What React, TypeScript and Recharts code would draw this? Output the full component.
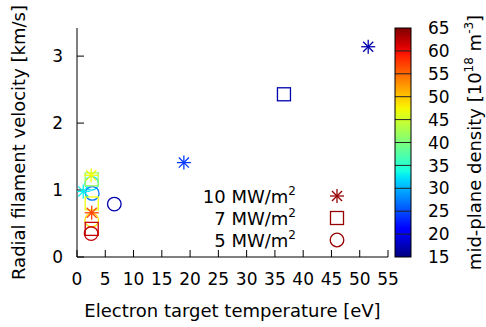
import React from 'react';
import { ScatterChart, Scatter, XAxis, YAxis } from 'recharts';

// electron target temperature [eV], filament velocity [km/s], mid-plane density [1e18 m^-3]
const star10Temp = [51.5, 18.9, 2.5, 1.1, 2.6];
const star10Vel = [3.14, 1.41, 1.22, 0.98, 0.66];
const star10Dens = [17, 24, 47, 33, 57];

const square7Temp = [36.6, 2.6, 2.6, 2.6];
const square7Vel = [2.43, 1.16, 0.8, 0.42];
const square7Dens = [17, 42, 47, 62];

const circle5Temp = [6.6, 2.6, 2.7, 2.6, 2.5];
const circle5Vel = [0.79, 1.1, 0.95, 0.55, 0.35];
const circle5Dens = [17, 32, 27, 49, 62];

const tempTicks = [0, 5, 10, 15, 20, 25, 30, 35, 40, 45, 50, 55];
const velTicks = [0, 1, 2, 3];
const densTicks = [15, 20, 25, 30, 35, 40, 45, 50, 55, 60, 65];

const legendRows = ['10', '7', '5'];

const FONT = 'DejaVu Sans, Verdana, sans-serif';
const box = { left: 77, top: 28, right: 388, bottom: 257 };
const cbar = { left: 395, right: 411 };

// jet colour map
const jetR = [[0, 0], [0.35, 0], [0.66, 1], [0.89, 1], [1, 0.5]];
const jetG = [[0, 0], [0.125, 0], [0.375, 1], [0.64, 1], [0.91, 0], [1, 0]];
const jetB = [[0, 0.5], [0.11, 1], [0.34, 1], [0.65, 0], [1, 0]];

function interp(pts: number[][], f: number) {
  for (let i = 1; i < pts.length; i++) {
    if (f <= pts[i][0]) {
      const [x0, y0] = pts[i - 1];
      const [x1, y1] = pts[i];
      return y0 + ((y1 - y0) * (f - x0)) / (x1 - x0);
    }
  }
  return pts[pts.length - 1][1];
}

function jet(f: number) {
  const t = Math.max(0, Math.min(1, f));
  const c = (p: number[][]) => Math.round(interp(p, t) * 255);
  return `rgb(${c(jetR)},${c(jetG)},${c(jetB)})`;
}

const dMin = densTicks[0];
const dMax = densTicks[densTicks.length - 1];
const densityColor = (n: number) => jet((n - dMin) / (dMax - dMin));

const zip = (t: number[], v: number[], d: number[]) =>
  t.map((x, i) => ({ t: x, v: v[i], n: d[i] }));

const starData = zip(star10Temp, star10Vel, star10Dens);
const squareData = zip(square7Temp, square7Vel, square7Dens);
const circleData = zip(circle5Temp, circle5Vel, circle5Dens);

const LW = 1.3;

function Star({ cx, cy, color }: any) {
  const r = 7;
  const d = r * 0.72;
  return (
    <g stroke={color} strokeWidth={LW} fill="none">
      <line x1={cx - r} y1={cy} x2={cx + r} y2={cy} />
      <line x1={cx} y1={cy - r} x2={cx} y2={cy + r} />
      <line x1={cx - d} y1={cy - d} x2={cx + d} y2={cy + d} />
      <line x1={cx - d} y1={cy + d} x2={cx + d} y2={cy - d} />
    </g>
  );
}

function Square({ cx, cy, color }: any) {
  return <rect x={cx - 6.5} y={cy - 6.5} width={13} height={13} stroke={color} strokeWidth={LW} fill="none" />;
}

function Circle({ cx, cy, color }: any) {
  return <circle cx={cx} cy={cy} r={6.8} stroke={color} strokeWidth={LW} fill="none" />;
}

const markers = [Star, Square, Circle];

const tickFont = { fontFamily: FONT, fontSize: 17, fill: '#000' };
const LABEL = 18;
const blank = () => '';

function ColorBar() {
  const h = box.bottom - box.top;
  const yOf = (n: number) => box.bottom - ((n - dMin) / (dMax - dMin)) * h;
  const stops = Array.from({ length: 41 }, (_, i) => i / 40);
  return (
    <g>
      <defs>
        <linearGradient id="jetbar" x1="0" y1="1" x2="0" y2="0">
          {stops.map((s) => (
            <stop key={s} offset={s} stopColor={jet(s)} />
          ))}
        </linearGradient>
      </defs>
      <rect x={cbar.left} y={box.top} width={cbar.right - cbar.left} height={h} fill="url(#jetbar)" />
      {densTicks.slice(1, -1).map((n) => (
        <line key={n} x1={cbar.left} x2={cbar.right} y1={yOf(n)} y2={yOf(n)} stroke="#222" strokeWidth={1} />
      ))}
      <rect x={cbar.left} y={box.top} width={cbar.right - cbar.left} height={h} fill="none" stroke="#000" strokeWidth={1} />
      {densTicks.map((n) => (
        <text key={n} x={428} y={yOf(n)} dy="0.36em" {...tickFont}>
          {n}
        </text>
      ))}
    </g>
  );
}

function Overlay() {
  const midY = (box.top + box.bottom) / 2;
  const legendY = [196, 218, 240];
  return (
    <svg width={486} height={327} style={{ position: 'absolute', left: 0, top: 0, pointerEvents: 'none' }}>
      <ColorBar />
      <text x={(box.left + box.right) / 2} y={317} textAnchor="middle" fontFamily={FONT} fontSize={LABEL}>
        Electron target temperature [eV]
      </text>
      <text transform={`translate(25,${midY}) rotate(-90)`} textAnchor="middle" fontFamily={FONT} fontSize={LABEL}>
        Radial filament velocity [km/s]
      </text>
      <text transform={`translate(481,${midY}) rotate(-90)`} textAnchor="middle" fontFamily={FONT} fontSize={LABEL}>
        mid-plane density [10
        <tspan dy={-8} fontSize={12}>18</tspan>
        <tspan dy={8}> m</tspan>
        <tspan dy={-8} fontSize={12}>-3</tspan>
        <tspan dy={8}>]</tspan>
      </text>
      {legendRows.map((p, i) => {
        const M = markers[i];
        return (
          <g key={p}>
            <text x={296} y={legendY[i] + 7} textAnchor="end" fontFamily={FONT} fontSize={LABEL}>
              {p} MW/m<tspan dy={-8} fontSize={12}>2</tspan>
            </text>
            <M cx={337} cy={legendY[i]} color={densityColor(dMax - 1)} />
          </g>
        );
      })}
    </svg>
  );
}

export default function App() {
  return (
    <div style={{ position: 'absolute', left: 0, top: 0, width: 486, height: 327, background: '#fff' }}>
      <ScatterChart
        width={486}
        height={327}
        margin={{ top: box.top, right: 486 - box.right, bottom: 327 - box.bottom - 40, left: box.left - 60 }}
      >
        <XAxis
          type="number"
          dataKey="t"
          domain={[0, 55]}
          ticks={tempTicks}
          interval={0}
          height={40}
          stroke="#000"
          tickSize={-7}
          tickMargin={23}
          tick={tickFont}
          allowDataOverflow
        />
        <XAxis
          xAxisId="top"
          orientation="top"
          type="number"
          domain={[0, 55]}
          ticks={tempTicks}
          interval={0}
          height={0}
          stroke="#000"
          tickSize={-7}
          tickFormatter={blank}
        />
        <YAxis
          type="number"
          dataKey="v"
          domain={[0, 3.42]}
          ticks={velTicks}
          interval={0}
          width={60}
          stroke="#000"
          tickSize={-7}
          tickMargin={21}
          tick={tickFont}
          allowDataOverflow
        />
        <YAxis
          yAxisId="right"
          orientation="right"
          type="number"
          domain={[0, 3.42]}
          ticks={velTicks}
          interval={0}
          width={0}
          stroke="#000"
          tickSize={-7}
          tickFormatter={blank}
        />
        <Scatter
          data={circleData}
          isAnimationActive={false}
          shape={(p: any) => <Circle cx={p.cx} cy={p.cy} color={densityColor(p.payload.n)} />}
        />
        <Scatter
          data={squareData}
          isAnimationActive={false}
          shape={(p: any) => <Square cx={p.cx} cy={p.cy} color={densityColor(p.payload.n)} />}
        />
        <Scatter
          data={starData}
          isAnimationActive={false}
          shape={(p: any) => <Star cx={p.cx} cy={p.cy} color={densityColor(p.payload.n)} />}
        />
      </ScatterChart>
      <Overlay />
    </div>
  );
}
